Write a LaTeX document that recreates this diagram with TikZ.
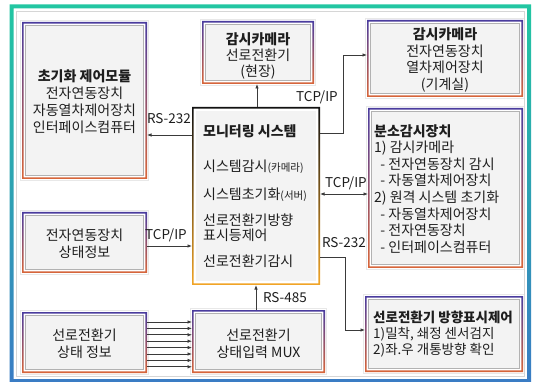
\documentclass[tikz,border=0pt]{standalone}
\usepackage{fontspec}
\setmainfont{Noto Sans CJK KR}
\usetikzlibrary{arrows.meta,backgrounds,fit,calc}
\definecolor{txt}{HTML}{1E1E1E}
\definecolor{bTop}{HTML}{4A3C9E}
\definecolor{bMid}{HTML}{B04CA8}
\definecolor{bBot}{HTML}{D8663A}
\definecolor{mTop}{HTML}{111111}
\definecolor{mMid}{HTML}{7A3A98}
\definecolor{mBot}{HTML}{F2A526}
\definecolor{fTop}{HTML}{22C6A2}
\definecolor{fBot}{HTML}{3A7CC4}
\definecolor{boxfill}{HTML}{F3F3F3}
\definecolor{arrc}{HTML}{3A3A3A}
\tikzset{
  area/.style={inner sep=0pt, outer sep=0pt},
  lbl/.style={inner sep=0pt, text=txt, font=\fontsize{13.5pt}{15pt}\selectfont},
  ctext/.style={inner sep=0pt, text=txt, align=center, font=\fontsize{14pt}{17pt}\selectfont},
  ltext/.style={inner sep=0pt, text=txt, align=left, anchor=north west, font=\fontsize{14pt}{16.6pt}\selectfont},
  arr/.style={draw=arrc, line width=0.8pt, -{Latex[length=4.5pt,width=3.6pt]}},
  darr/.style={draw=arrc, line width=0.8pt, {Latex[length=4.5pt,width=3.6pt]}-{Latex[length=4.5pt,width=3.6pt]}},
}
\newcommand\fancybox[1]{%
  \draw[black!9, line width=1pt] ($(#1.north west)+(-1.2pt,1.2pt)$) rectangle ($(#1.south east)+(1.2pt,-1.2pt)$);
  \shade[top color=bTop, middle color=bMid, bottom color=bBot, even odd rule]
    (#1.north west) rectangle (#1.south east)
    ($(#1.north west)+(1.6pt,-1.6pt)$) rectangle ($(#1.south east)+(-1.6pt,1.6pt)$);
  \fill[white] ($(#1.north west)+(1.6pt,-1.6pt)$) rectangle ($(#1.south east)+(-1.6pt,1.6pt)$);
  \fill[black!30] ($(#1.north west)+(2.6pt,-2.6pt)$) rectangle ($(#1.south east)+(-2.6pt,2.6pt)$);
  \fill[boxfill] ($(#1.north west)+(4pt,-4pt)$) rectangle ($(#1.south east)+(-4pt,4pt)$);
}
\begin{document}
\begin{tikzpicture}[x=1pt,y=-1pt]
\useasboundingbox (0,0) rectangle (533,382);
% outer frame
\path (9.5,4.5) coordinate (fnw) (531,383) coordinate (fse);
\shade[top color=fTop, bottom color=fBot, even odd rule]
  (fnw) rectangle (fse) ($(fnw)+(4pt,-4pt)$) rectangle ($(fse)+(-4pt,4pt)$);
\draw[black!16, line width=0.9pt] ($(fnw)+(7pt,-7pt)$) rectangle ($(fse)+(-7pt,7pt)$);

% box areas
\node[area, fit={(22,22) (147,179)}] (init) {};
\node[area, fit={(202,21) (314,84)}] (cam1) {};
\node[area, fit={(367,20) (523,97)}] (cam2) {};
\node[area, fit={(192,107) (320,285)}] (mon) {};
\node[area, fit={(368,108) (523,268)}] (bun) {};
\node[area, fit={(22,212) (147,273)}] (sts1) {};
\node[area, fit={(22,312) (147,373)}] (sts2) {};
\node[area, fit={(192,310) (325,373)}] (mux) {};
\node[area, fit={(365,296) (523,372)}] (dir) {};

\begin{scope}[on background layer]
  \fancybox{init}
  \fancybox{cam1}
  \fancybox{cam2}
  \fancybox{bun}
  \fancybox{sts1}
  \fancybox{sts2}
  \fancybox{mux}
  \fancybox{dir}
  % monitoring box
  \shade[top color=mTop, middle color=mMid, bottom color=mBot, even odd rule]
    (mon.north west) rectangle (mon.south east)
    ($(mon.north west)+(1.6pt,-1.6pt)$) rectangle ($(mon.south east)+(-1.6pt,1.6pt)$);
  \fill[white] ($(mon.north west)+(1.6pt,-1.6pt)$) rectangle ($(mon.south east)+(-1.6pt,1.6pt)$);
  \fill[boxfill] ($(mon.north west)+(4pt,-4pt)$) rectangle ($(mon.south east)+(-4pt,4pt)$);
\end{scope}

% texts
\node[ctext] (init-t) at (84.5,102) {{\bfseries 초기화 제어모듈}\\전자연동장치\\자동열차제어장치\\인터페이스컴퓨터};
\node[ctext, font=\fontsize{14pt}{16pt}\selectfont] (cam1-t) at (258,55.5) {{\bfseries 감시카메라}\\선로전환기\\(현장)};
\node[ctext, font=\fontsize{14pt}{16.7pt}\selectfont] (cam2-t) at (445,60) {{\bfseries 감시카메라}\\전자연동장치\\열차제어장치\\(기계실)};
\node[ltext, font=\fontsize{14pt}{15pt}\selectfont] (mon-t) at (203,124)
  {{\bfseries 모니터링 시스템}\\[20pt]
   시스템감시{\fontsize{10.5pt}{12pt}\selectfont(카메라)}\\[13pt]
   시스템초기화{\fontsize{10.5pt}{12pt}\selectfont(서버)}\\[11pt]
   선로전환기방향\\
   표시등제어\\[11pt]
   선로전환기감시};
\node[ltext] (bun-t) at (374,124)
  {{\bfseries 분소감시장치}\\
   1) 감시카메라\\
   \ \ - 전자연동장치 감시\\
   \ \ - 자동열차제어장치\\
   2) 원격 시스템 초기화\\
   \ \ - 자동열차제어장치\\
   \ \ - 전자연동장치\\
   \ \ - 인터페이스컴퓨터};
\node[ctext] (sts1-t) at (84.5,243.5) {전자연동장치\\상태정보};
\node[ctext] (sts2-t) at (84.5,343.5) {선로전환기\\상태 정보};
\node[ctext] (mux-t) at (258.5,344) {선로전환기\\상태입력 MUX};
\node[ltext, font=\fontsize{13.5pt}{16pt}\selectfont] (dir-t) at (373,310.5)
  {{\bfseries 선로전환기 방향표시제어}\\
   1)밀착, 쇄정 센서검지\\
   2)좌.우 개통방향 확인};

% connectors
\draw[arr] (mon.west |- 0,135) -- (init.east |- 0,135);
\draw[arr] (mon.north -| 257,0) -- (cam1.south -| 257,0);
\draw[arr] (mon.east |- 0,133) -| (343,55) -- (cam2.west |- 0,55);
\draw[darr] (mon.east |- 0,194) -- (bun.west |- 0,194);
\draw[arr] (mon.east |- 0,257) -| (345,330) -- (dir.west |- 0,330);
\draw[arr] (sts1.east |- 0,246) -- (mon.west |- 0,246);
\draw[arr] (mux.north -| 256,0) -- (mon.south -| 256,0);
\foreach \i in {0,...,7} {
  \draw[arr] (sts2.east |- 0,{322+6.4*\i}) -- (mux.west |- 0,{322+6.4*\i});
}

% labels
\node[lbl] (l-rs232a) at (169,119) {RS-232};
\node[lbl] (l-tcp1) at (317,97) {TCP/IP};
\node[lbl] (l-tcp2) at (346,183) {TCP/IP};
\node[lbl] (l-rs232b) at (344,243) {RS-232};
\node[lbl] (l-tcp3) at (166,235) {TCP/IP};
\node[lbl] (l-rs485) at (285,298) {RS-485};
\end{tikzpicture}
\end{document}
